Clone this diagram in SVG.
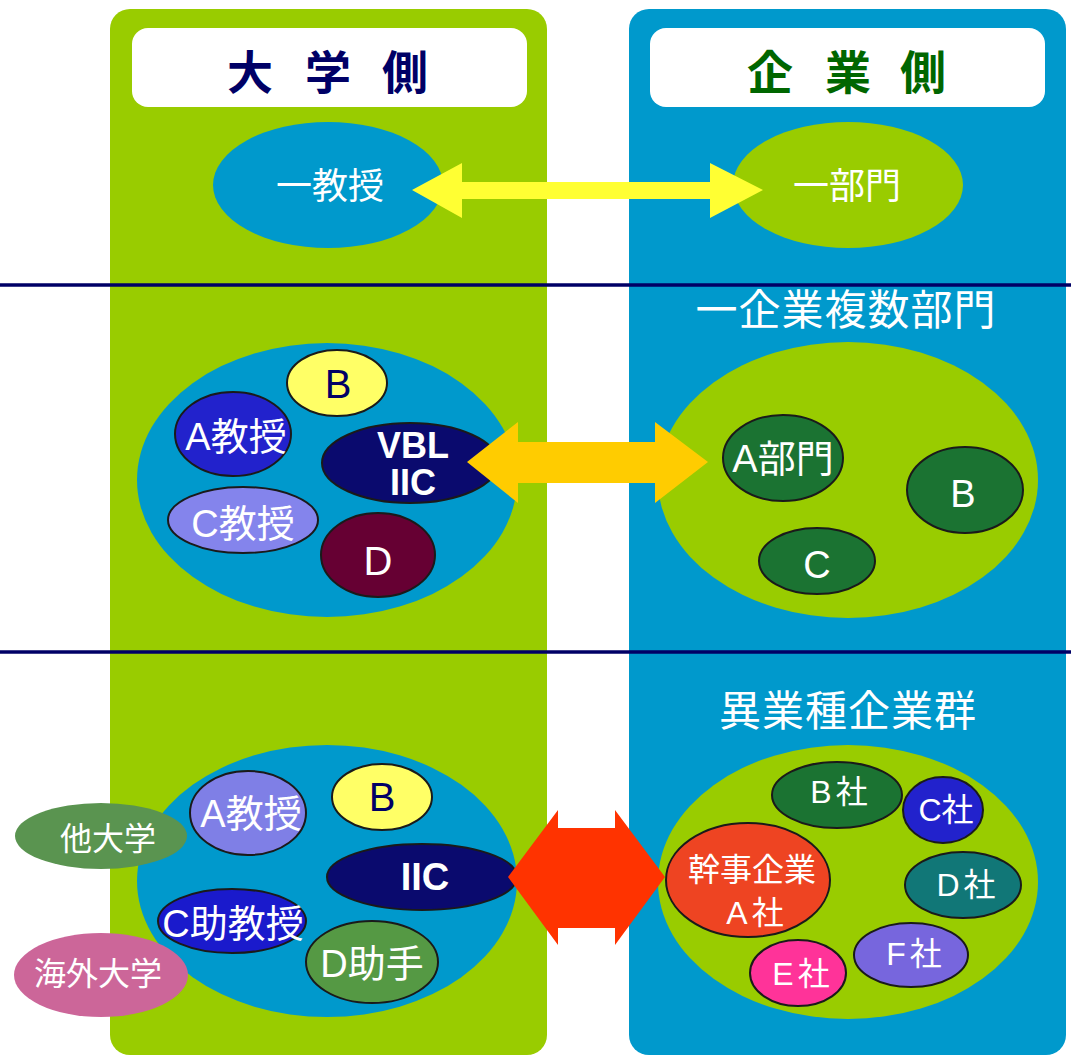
<svg xmlns="http://www.w3.org/2000/svg" width="1071" height="1059" viewBox="0 0 1071 1059">
<style>
text{font-family:"Liberation Sans","Noto Sans CJK JP",sans-serif;fill:#fff;text-anchor:middle}
.hd{font-family:"Noto Sans CJK JP",sans-serif;font-weight:bold;font-size:46px}
.n{stroke:#1a1a1a;stroke-width:2}
.s36{font-size:36px}.s38{font-size:38px}.s40{font-size:40px}.s32{font-size:32px}.s42{font-size:42px}
.b{font-weight:bold}
</style>
<rect width="1071" height="1059" fill="#fff"/>
<g id="panel-university">
<rect x="110" y="9" width="437" height="1046" rx="20" fill="#99CC00"/>
<rect x="132" y="28" width="395" height="79" rx="16" fill="#fff"/>
<text class="hd" x="250 289 328 367 405" y="89" fill="#000066" style="fill:#000066">大 学 側</text>
</g>
<g id="panel-company">
<rect x="629" y="9" width="437" height="1046" rx="20" fill="#0099CC"/>
<rect x="650" y="28" width="395" height="79" rx="16" fill="#fff"/>
<text class="hd" x="770 809 848 886 923" y="89" style="fill:#006600">企 業 側</text>
</g>
<g id="dividers" stroke="#000066" stroke-width="3.5">
<line x1="0" y1="285" x2="1071" y2="285"/>
<line x1="0" y1="652" x2="1071" y2="652"/>
</g>
<!-- Section 1 -->
<g id="node-ichikyouju"><ellipse cx="328" cy="185" rx="115" ry="63" fill="#0099CC"/><text class="s36" x="330" y="199">一教授</text></g>
<g id="node-ichibumon"><ellipse cx="848" cy="185" rx="115" ry="63" fill="#99CC00"/><text class="s36" x="847" y="199">一部門</text></g>
<!-- Section 2 -->
<text id="label-ichikigyou" class="s42" x="846" y="325" letter-spacing="1">一企業複数部門</text>
<g id="group-univ2"><ellipse cx="327" cy="480" rx="190" ry="137" fill="#0099CC"/></g>
<g id="node-b2"><ellipse class="n" cx="337" cy="383" rx="50" ry="33" fill="#FFFF66"/><text class="s40" x="338" y="398" style="fill:#000066">B</text></g>
<g id="node-akyouju2"><ellipse class="n" cx="233" cy="434" rx="58" ry="42" fill="#2222CC"/><text class="s38" x="236" y="450">A教授</text></g>
<g id="node-vbl"><ellipse class="n" cx="410" cy="463" rx="88" ry="40" fill="#0A0A6E"/><text class="s36 b" x="413" y="458">VBL</text><text class="s36 b" x="413" y="495">IIC</text></g>
<g id="node-ckyouju2"><ellipse class="n" cx="243" cy="520" rx="75" ry="33" fill="#8484EC"/><text class="s38" x="243" y="537">C教授</text></g>
<g id="node-d2"><ellipse class="n" cx="378" cy="555" rx="57" ry="42" fill="#660033"/><text class="s40" x="378" y="575">D</text></g>
<g id="group-comp2"><ellipse cx="848" cy="480" rx="190" ry="138" fill="#99CC00"/></g>
<g id="node-abumon"><ellipse class="n" cx="783" cy="458" rx="60" ry="43" fill="#1B7332"/><text class="s38" x="783" y="472">A部門</text></g>
<g id="node-bbumon"><ellipse class="n" cx="965" cy="490" rx="58" ry="43" fill="#1B7332"/><text class="s38" x="963" y="507">B</text></g>
<g id="node-cbumon"><ellipse class="n" cx="817" cy="561" rx="58" ry="33" fill="#1B7332"/><text class="s38" x="817" y="578">C</text></g>
<!-- Section 3 -->
<text id="label-igyoushu" class="s42" x="848" y="726" letter-spacing="1">異業種企業群</text>
<g id="group-univ3"><ellipse cx="327" cy="881" rx="190" ry="136" fill="#0099CC"/></g>
<g id="node-tadaigaku"><ellipse cx="101" cy="836" rx="86" ry="33" fill="#5A9450"/><text class="s32" x="108" y="850">他大学</text></g>
<g id="node-kaigai"><ellipse cx="101" cy="975" rx="87" ry="42" fill="#CC6699"/><text class="s32" x="98" y="985">海外大学</text></g>
<g id="node-akyouju3"><ellipse class="n" cx="248" cy="813" rx="58" ry="42" fill="#7F7FE6"/><text class="s38" x="251" y="827">A教授</text></g>
<g id="node-b3"><ellipse class="n" cx="382" cy="797" rx="50" ry="33" fill="#FFFF66"/><text class="s40" x="382" y="811" style="fill:#000066">B</text></g>
<g id="node-iic"><ellipse class="n" cx="422" cy="877" rx="95" ry="33" fill="#0A0A6E"/><text class="s38 b" x="425" y="890">IIC</text></g>
<g id="node-cjokyouju"><ellipse class="n" cx="232" cy="921" rx="74" ry="32" fill="#1A1ACC"/><text class="s38" x="233" y="937">C助教授</text></g>
<g id="node-djoshu"><ellipse class="n" cx="372" cy="962" rx="66" ry="41" fill="#559944"/><text class="s38" x="372" y="977">D助手</text></g>
<g id="group-comp3"><ellipse cx="848" cy="882" rx="190" ry="137" fill="#99CC00"/></g>
<g id="node-bsha"><ellipse class="n" cx="837" cy="795" rx="65" ry="33" fill="#1B7332"/><text class="s32" x="841" y="803" letter-spacing="4">B社</text></g>
<g id="node-csha"><ellipse class="n" cx="943" cy="810" rx="40" ry="33" fill="#2222CC"/><text class="s32" x="946" y="821">C社</text></g>
<g id="node-kanji"><ellipse class="n" cx="748" cy="880" rx="82" ry="57" fill="#EE4422"/><text class="s32" x="752" y="881">幹事企業</text><text class="s32" x="757" y="924" letter-spacing="4">A社</text></g>
<g id="node-dsha"><ellipse class="n" cx="963" cy="885" rx="58" ry="33" fill="#117777"/><text class="s32" x="968" y="896" letter-spacing="4">D社</text></g>
<g id="node-fsha"><ellipse class="n" cx="911" cy="955" rx="57" ry="32" fill="#7766DD"/><text class="s32" x="916" y="965" letter-spacing="4">F社</text></g>
<g id="node-esha"><ellipse class="n" cx="798" cy="973" rx="48" ry="33" fill="#FF3399"/><text class="s32" x="803" y="985" letter-spacing="4">E社</text></g>
<g id="connectors">
<polygon fill="#FFFF33" points="412,190 462,163 462,182 710,182 710,163 763,190 710,218 710,199 462,199 462,218"/>
<polygon fill="#FFCC00" points="467,462 518,422 518,442 655,442 655,422 708,462 655,503 655,483 518,483 518,503"/>
<polygon fill="#FF3300" points="508,877 558,810 558,828 615,828 615,810 665,877 615,945 615,928 558,928 558,945"/>
</g>
</svg>
